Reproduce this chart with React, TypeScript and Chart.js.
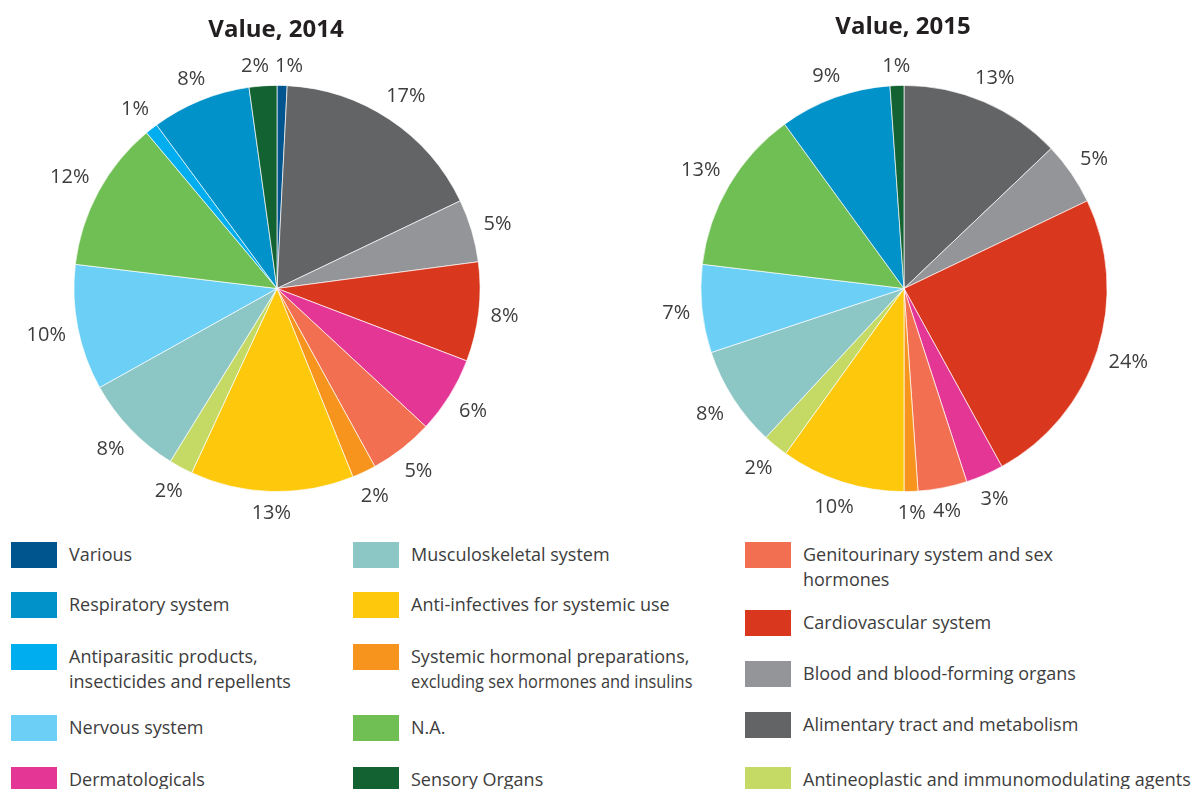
import React, { useEffect, useRef } from 'react';
import { Chart, registerables } from 'chart.js';

Chart.register(...registerables);

// ---------- data ----------
const categories = [
  'Various',
  'Alimentary tract and metabolism',
  'Blood and blood-forming organs',
  'Cardiovascular system',
  'Dermatologicals',
  'Genitourinary system and sex\nhormones',
  'Systemic hormonal preparations,\nexcluding sex hormones and insulins',
  'Anti-infectives for systemic use',
  'Antineoplastic and immunomodulating agents',
  'Musculoskeletal system',
  'Nervous system',
  'N.A.',
  'Antiparasitic products,\ninsecticides and repellents',
  'Respiratory system',
  'Sensory Organs',
];

const colors = [
  '#00558F',
  '#636466',
  '#939598',
  '#D9381E',
  '#E43795',
  '#F26F51',
  '#F7941E',
  '#FEC90D',
  '#C5DA65',
  '#8DC7C5',
  '#6BCFF6',
  '#70BF54',
  '#00AEEF',
  '#0092C8',
  '#126232',
];

const values2014 = [0.8, 17.1, 5.0, 7.9, 6.1, 5.1, 1.9, 13.0, 1.9, 8.1, 10.0, 12.0, 1.0, 7.9, 2.2];
const values2015 = [0, 12.9, 5.0, 24.1, 3.0, 3.9, 1.1, 9.9, 2.0, 8.0, 7.0, 13.1, 0, 8.9, 1.1];

const chartTitles = ['Value, 2014', 'Value, 2015'];

// legend columns: indices into categories
const legendColumns = [
  [0, 13, 12, 10, 4],
  [9, 7, 6, 11, 14],
  [5, 3, 2, 1, 8],
];

// ---------- layout ----------
const FONT = '"Open Sans", "Noto Sans", sans-serif';
const TEXT_COLOR = '#3d3d3d';

const pieLayouts = [
  { left: 0, width: 596, height: 530, padding: { left: 73.5, right: 115.5, top: 85, bottom: 38 }, titleBaseline: 36.5 },
  { left: 596, width: 596, height: 530, padding: { left: 104.5, right: 84.5, top: 85, bottom: 38 }, titleBaseline: 33.5 },
];

const legendColX = [
  { swatch: 11, text: 69 },
  { swatch: 353, text: 411 },
  { swatch: 745, text: 803 },
];
const legendRowTops = [
  [542, 592, 644, 715, 767],
  [542, 592, 644, 715, 767],
  [542, 610, 661, 712, 767],
];

// ---------- plugins ----------
const pctLabelPlugin = {
  id: 'pctLabels',
  afterDatasetsDraw(chart: any) {
    const ctx = chart.ctx as CanvasRenderingContext2D;
    const meta = chart.getDatasetMeta(0);
    const data = chart.data.datasets[0].data as number[];
    const total = data.reduce((a, b) => a + b, 0);
    const fontSize = 20;
    ctx.save();
    ctx.font = `400 ${fontSize}px ${FONT}`;
    ctx.fillStyle = TEXT_COLOR;
    ctx.textAlign = 'center';
    ctx.textBaseline = 'alphabetic';
    const items: any[] = [];
    meta.data.forEach((arc: any, i: number) => {
      const v = data[i];
      if (!v) return;
      const p = arc.getProps(['x', 'y', 'startAngle', 'endAngle', 'outerRadius'], true);
      const mid = (p.startAngle + p.endAngle) / 2;
      const text = Math.round((v / total) * 100) + '%';
      const w = ctx.measureText(text).width;
      const h = 18;
      const R = p.outerRadius + 11 + (w / 2) * Math.abs(Math.cos(mid)) + (h / 2) * Math.abs(Math.sin(mid));
      items.push({ text, w, cx: p.x + R * Math.cos(mid), cy: p.y + R * Math.sin(mid) });
    });
    // simple overlap resolution between neighbours
    const n = items.length;
    for (let iter = 0; iter < 8; iter++) {
      for (let i = 0; i < n; i++) {
        const a = items[i];
        const b = items[(i + 1) % n];
        if (a === b) continue;
        const dx = b.cx - a.cx;
        const dy = b.cy - a.cy;
        const need = (a.w + b.w) / 2 + 6;
        if (Math.abs(dy) < 16 && Math.abs(dx) < need) {
          const s = dx >= 0 ? 1 : -1;
          const push = (need - Math.abs(dx)) / 2;
          a.cx -= s * push;
          b.cx += s * push;
        }
      }
    }
    items.forEach((it) => {
      ctx.fillText(it.text, it.cx, it.cy + fontSize * 0.357);
    });
    ctx.restore();
  },
};

const titlePlugin = {
  id: 'pieTitle',
  afterDraw(chart: any) {
    const opts = chart.options.plugins.pieTitle;
    if (!opts) return;
    const ctx = chart.ctx as CanvasRenderingContext2D;
    const meta = chart.getDatasetMeta(0);
    const cx = meta.data[0] ? (meta.data[0] as any).x : chart.width / 2;
    ctx.save();
    ctx.font = `700 24px ${FONT}`;
    ctx.fillStyle = '#231F20';
    ctx.textAlign = 'center';
    ctx.textBaseline = 'alphabetic';
    ctx.fillText(opts.text, cx - 1, opts.baseline);
    ctx.restore();
  },
};

function makeChart(canvas: HTMLCanvasElement, values: number[], title: string, layout: any) {
  return new Chart(canvas, {
    type: 'pie',
    data: {
      labels: categories,
      datasets: [
        {
          data: values,
          backgroundColor: colors,
          borderColor: 'rgba(255,255,255,0.85)',
          borderWidth: 0.8,
          hoverOffset: 0,
          offset: 0,
        },
      ],
    },
    options: {
      responsive: false,
      animation: false,
      events: [],
      layout: { padding: layout.padding },
      plugins: {
        legend: { display: false },
        tooltip: { enabled: false },
        title: { display: false },
        // @ts-ignore
        pieTitle: { text: title, baseline: layout.titleBaseline },
      },
    },
    plugins: [pctLabelPlugin, titlePlugin],
  } as any);
}

export default function App() {
  const ref1 = useRef<HTMLCanvasElement>(null);
  const ref2 = useRef<HTMLCanvasElement>(null);

  useEffect(() => {
    const c1 = makeChart(ref1.current!, values2014, chartTitles[0], pieLayouts[0]);
    const c2 = makeChart(ref2.current!, values2015, chartTitles[1], pieLayouts[1]);
    return () => {
      c1.destroy();
      c2.destroy();
    };
  }, []);

  const refs = [ref1, ref2];

  return (
    <div
      style={{
        position: 'absolute',
        left: 0,
        top: 0,
        width: 1192,
        height: 789,
        overflow: 'hidden',
        background: '#ffffff',
        fontFamily: FONT,
      }}
    >
      {pieLayouts.map((l, i) => (
        <canvas
          key={i}
          ref={refs[i]}
          width={l.width}
          height={l.height}
          style={{ position: 'absolute', left: l.left, top: 0, width: l.width, height: l.height }}
        />
      ))}
      {legendColumns.map((col, ci) =>
        col.map((catIdx, ri) => {
          const top = legendRowTops[ci][ri];
          const lines = categories[catIdx].split('\n');
          return (
            <React.Fragment key={`${ci}-${ri}`}>
              <div
                style={{
                  position: 'absolute',
                  left: legendColX[ci].swatch,
                  top,
                  width: 46,
                  height: 26,
                  background: colors[catIdx],
                }}
              />
              <div
                style={{
                  position: 'absolute',
                  left: legendColX[ci].text,
                  top,
                  fontSize: 18,
                  lineHeight: '25px',
                  color: TEXT_COLOR,
                  whiteSpace: 'nowrap',
                }}
              >
                {lines.map((ln, li) => {
                  const condensed = catIdx === 6 && li === 1;
                  return (
                    <div
                      key={li}
                      style={
                        condensed
                          ? { transform: 'scaleX(0.91)', transformOrigin: 'left center' }
                          : undefined
                      }
                    >
                      {ln}
                    </div>
                  );
                })}
              </div>
            </React.Fragment>
          );
        })
      )}
    </div>
  );
}
